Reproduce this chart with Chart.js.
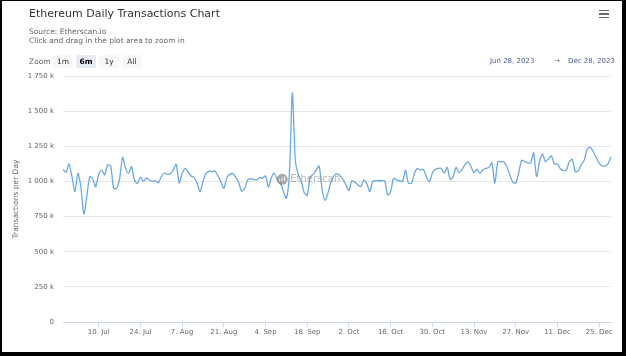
<!DOCTYPE html>
<html><head><meta charset="utf-8">
<script src="https://cdn.jsdelivr.net/npm/chart.js@4/dist/chart.umd.min.js"></script>
<style>
html,body{margin:0;padding:0;background:#000;width:626px;height:356px;overflow:hidden;font-family:"DejaVu Sans",sans-serif;}
#paper{position:absolute;left:2px;top:1px;width:620px;height:351px;background:#fff;}
#c{position:absolute;left:0;top:0;}
.t{position:absolute;white-space:nowrap;}
#title{left:29px;top:7px;font-size:11px;line-height:14px;color:#333;}
#sub1{left:29px;top:27px;font-size:7.5px;line-height:9px;color:#666;}
#sub2{left:29px;top:36px;font-size:7.5px;line-height:9px;color:#666;}
#zoomLbl{left:29px;top:57px;font-size:7.5px;line-height:9px;color:#666;}
.btn{position:absolute;top:55px;height:13px;width:20px;background:#f7f7f7;border-radius:2px;font-size:7.5px;line-height:13px;text-align:center;color:#333;}
.btn.sel{background:#e6ebf5;font-weight:bold;color:#000;}
.dr{position:absolute;top:56.5px;font-size:7px;line-height:9px;color:#4b5b94;white-space:nowrap;}
#arrow{color:#666;}
.hb{position:absolute;left:599px;width:10px;height:1.6px;background:#666;}
</style></head>
<body>
<div id="paper"></div>
<canvas id="c" width="626" height="356"></canvas>
<div class="t" id="title">Ethereum Daily Transactions Chart</div>
<div class="t" id="sub1">Source: Etherscan.io</div>
<div class="t" id="sub2">Click and drag in the plot area to zoom in</div>
<div class="t" id="zoomLbl">Zoom</div>
<div class="btn" style="left:53px">1m</div>
<div class="btn sel" style="left:76px">6m</div>
<div class="btn" style="left:99px">1y</div>
<div class="btn" style="left:122px">All</div>
<div class="dr" style="left:490px">Jun 28, 2023</div>
<div class="dr" id="arrow" style="left:554px">→</div>
<div class="dr" style="left:568px">Dec 28, 2023</div>
<div class="hb" style="top:9.5px"></div>
<div class="hb" style="top:13px"></div>
<div class="hb" style="top:16.5px"></div>
<script>
// Daily transactions (thousands), Jun 28 2023 onward
const txThousands = [
 1086,1065,1124,1034,927,1058,962,768,896,1034,
 1017,962,1053,1081,1046,1117,1110,951,951,1017,
 1172,1093,1058,1105,1010,984,1030,1000,1025,1010,
 1000,1005,990,1035,1060,1050,1055,1080,1122,990,
 1055,1093,1069,1039,1029,990,925,1000,1055,1072,
 1070,1074,1040,1000,950,1025,1050,1055,1030,990,
 930,950,1010,1020,1015,1010,1029,1022,1039,960,
 1030,1058,1010,990,930,880,1050,1630,1150,1050,
 1000,920,900,1030,1050,1080,1110,940,865,920,
 1000,1040,1055,1040,1015,975,935,1005,995,975,
 962,1010,985,927,1000,1005,1005,1005,1005,903,
 927,1022,1010,1005,998,1081,987,987,1058,1093,
 1081,1086,1034,998,1058,1086,1093,1093,1058,1100,
 1015,1034,1100,1062,1086,1120,1140,1105,1062,1086,
 1058,1081,1093,1100,1133,987,1140,1140,1140,1105,
 1050,995,987,1060,1150,1142,1133,1131,1204,1034,
 1140,1195,1140,1160,1181,1124,1124,1090,1078,1080,
 1140,1157,1070,1075,1120,1150,1230,1243,1215,1170,
 1131,1110,1110,1125,1175
];
const monthNames = ['Jan','Feb','Mar','Apr','May','Jun','Jul','Aug','Sep','Oct','Nov','Dec'];
const startDate = [2023, 5, 28];
const xTickLabels = ['10. Jul','24. Jul','7. Aug','21. Aug','4. Sep','18. Sep','2. Oct','16. Oct','30. Oct','13. Nov','27. Nov','11. Dec','25. Dec'];
const yMin = 0, yMax = 1750, yStep = 250;

const dayLabels = txThousands.map((_, i) => {
  const d = new Date(startDate[0], startDate[1], startDate[2] + i);
  return d.getDate() + '. ' + monthNames[d.getMonth()];
});

function fmtK(v){
  return String(v).replace(/\B(?=(\d{3})+(?!\d))/g, ' ') + (v === 0 ? '' : ' k');
}

const watermark = {
  id:'watermark',
  afterDatasetsDraw(chart){
    const {ctx, chartArea:a} = chart;
    const cx = a.left + (a.right - a.left) * 0.40;
    const cy = a.top + (a.bottom - a.top) * 0.42;
    ctx.save();
    ctx.globalAlpha = 0.75;
    ctx.fillStyle = '#8a8a8a';
    ctx.beginPath(); ctx.arc(cx, cy, 5.5, 0, Math.PI*2); ctx.fill();
    ctx.globalAlpha = 0.9;
    ctx.strokeStyle = '#fff'; ctx.lineWidth = 1;
    ctx.beginPath(); ctx.moveTo(cx-2.5, cy+2); ctx.lineTo(cx-2.5, cy-0.5); ctx.moveTo(cx, cy+2); ctx.lineTo(cx, cy-2); ctx.moveTo(cx+2.5, cy+2); ctx.lineTo(cx+2.5, cy-3); ctx.stroke();
    ctx.globalAlpha = 0.6;
    ctx.fillStyle = '#8a8a8a';
    ctx.font = '10px "DejaVu Sans"';
    ctx.textBaseline = 'middle';
    ctx.fillText('Etherscan', cx + 8, cy);
    ctx.restore();
  }
};

new Chart(document.getElementById('c'), {
  type:'line',
  data:{ labels: dayLabels, datasets:[{ data: txThousands, borderColor:'#6aa9e6', borderWidth:1.3, tension:0.25, pointRadius:0, fill:false }]},
  plugins:[watermark],
  options:{
    responsive:false, animation:false, devicePixelRatio:1,
    layout:{padding:{left:0, right:15, top:76, bottom:14}},
    plugins:{legend:{display:false}, tooltip:{enabled:false}},
    scales:{
      x:{
        type:'category', offset:false,
        grid:{drawOnChartArea:false, drawTicks:true, tickLength:5,
              color: ctx => (ctx.tick && ctx.tick.label) ? '#ccd6eb' : 'rgba(0,0,0,0)'},
        border:{color:'#ccd6eb'},
        ticks:{autoSkip:false, maxRotation:0, minRotation:0, padding:1, color:'#666',
               font:{family:'DejaVu Sans', size:7},
               callback:function(v){ const l = this.getLabelForValue(v); return xTickLabels.includes(l) ? l : ''; }},
        afterFit: s => { s.height = 20; }
      },
      y:{
        min:yMin, max:yMax,
        ticks:{stepSize:yStep, padding:9, color:'#666', font:{family:'DejaVu Sans', size:7}, callback: v => fmtK(v)},
        grid:{color:'#e6e6e6', drawTicks:false},
        border:{display:false},
        title:{display:true, text:'Transactions per Day', color:'#666', font:{family:'DejaVu Sans', size:7.5}, padding:{top:12, bottom:0}},
        afterFit: s => { s.width = 63; }
      }
    }
  }
});
</script>
</body></html>
